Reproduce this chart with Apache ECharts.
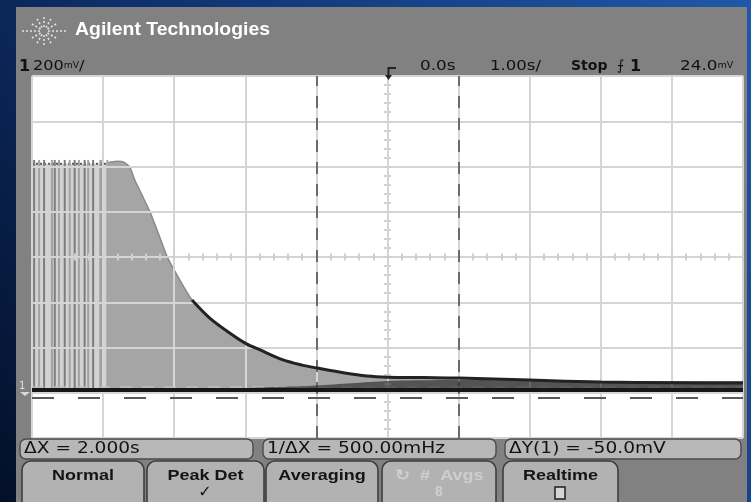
<!DOCTYPE html>
<html>
<head>
<meta charset="utf-8">
<script src="https://cdn.jsdelivr.net/npm/echarts@6/dist/echarts.min.js"></script>
<style>
  html, body { margin: 0; padding: 0; background: #0b2553; }
  #scope { width: 751px; height: 502px; }
</style>
</head>
<body>
<div id="scope"></div>
<script>
// Horizontal: 1.00 s/div, ten divisions centred on the trigger point (0.0 s)
const timeRange = [-5, 5];
// Vertical: 200 mV/div, eight divisions, channel 1 ground 2.94 div below centre
const voltRange = [-212, 1388];

// Pulse train before the discharge (s)
const pulseTimesStrong = [-4.97, -4.83, -4.68, -4.54, -4.40, -4.26, -4.14, -4.01];
const pulseTimesWeak = [-4.90, -4.72, -4.62, -4.47, -4.34, -4.21, -4.04, -3.94];
const pulsePeak = 1017;   // mV
const pulseLevel = 1000;  // mV, held top of the pulse train

// Peak-detect maximum of the decaying trace
const envTime = [-3.93, -3.86, -3.80, -3.70, -3.62, -3.55, -3.45, -3.34, -3.22, -3.09, -2.92, -2.75,
                 -2.50, -2.22, -1.99, -1.79, -1.47, -1.20, -0.99, -0.60, -0.29, 0, 0.5, 1, 2, 3, 4, 5];
const envVolt = [1005, 1009, 1011, 1006, 982, 925, 860, 787, 690, 583, 486, 398,
                 318, 252, 205, 177, 133, 110, 97, 75, 62, 57, 55, 53, 44, 35, 32, 31];

// Densest part of the trace just above ground
const denseTime = [-2.6, -2.0, -1.5, -1.0, -0.5, 0, 0.5, 1, 2, 3, 5];
const denseVolt = [0, 8, 14, 20, 30, 40, 43, 44, 42, 40, 40];

// Ground level trace
const baseTime = [-5, 5];
const baseVolt = [0, 0];

// Cursors: X1/X2 in s, Y1/Y2 in mV
const cursorX = [-1, 1];
const cursorY = [15, -35];

// Readouts derived from the cursors
const dX = cursorX[1] - cursorX[0];
const dY = cursorY[1] - cursorY[0];
const readDX = 'ΔX = ' + dX.toFixed(3) + 's';
const readInv = '1/ΔX = ' + (1000 / dX).toFixed(2) + 'mHz';
const readDY = 'ΔY(1) = ' + dY.toFixed(1) + 'mV';

const pairs = (xs, ys) => xs.map((x, i) => [x, ys[i]]);

// Plot area (graticule)
const G = { left: 32, top: 76, width: 711, height: 362 };
const centreY = G.top + G.height / 2;
const centreX = G.left + G.width / 2;
const markLen = 7;

const chart = echarts.init(document.getElementById('scope'), null, { renderer: 'canvas' });

const pulseData = pulseTimesStrong.map(t => ({ value: [t, pulsePeak], itemStyle: { color: '#7c7c7c' } }))
  .concat(pulseTimesWeak.map(t => ({ value: [t, pulsePeak], itemStyle: { color: '#a2a2a2' } })));

// Soft keys and readout boxes along the bottom
const keyFont = 'bold 15px "Liberation Sans", Arial, sans-serif';
function softKey(x, w, label, sub, dim) {
  const els = [{
    type: 'rect', z: 10,
    shape: { x: x, y: 461, width: w, height: 48, r: [9, 9, 0, 0] },
    style: { fill: '#b2b2b2', stroke: '#3e3e3e', lineWidth: 1.6 }
  }, {
    type: 'text', z: 11, x: x + w / 2, y: 476, scaleX: 1.2,
    style: { text: label, fill: dim ? '#cfcfcf' : '#141414', font: keyFont,
             align: 'center', verticalAlign: 'middle' }
  }];
  if (sub) els.push(sub);
  return els;
}
function readout(x, w, text) {
  return [{
    type: 'rect', z: 10,
    shape: { x: x, y: 439, width: w, height: 20, r: 6 },
    style: { fill: '#b7b7b7', stroke: '#4a4a4a', lineWidth: 1.4 }
  }, {
    type: 'text', z: 11, x: x + 4, y: 449.5, scaleX: 1.24,
    style: { text: text, fill: '#121212', font: '15px "DejaVu Sans", sans-serif', verticalAlign: 'middle' }
  }];
}

// Agilent starburst logo
const logo = [];
for (let i = 0; i < 12; i++) {
  const a = i * Math.PI / 6;
  const rx = (i % 6 === 0) ? 22 : 15, ry = 15;
  logo.push({
    type: 'line', z: 11,
    shape: { x1: 44 + Math.cos(a) * 4, y1: 31 + Math.sin(a) * 4, x2: 44 + Math.cos(a) * rx, y2: 31 + Math.sin(a) * ry },
    style: { stroke: '#e4e4e4', lineWidth: 1.5, lineDash: [2, 2] }
  });
}

const hdrFont = '14px "DejaVu Sans", sans-serif';
const unitRich = {
  n: { fontSize: 14, fontFamily: 'DejaVu Sans', fill: '#111' },
  u: { fontSize: 8, fontFamily: 'DejaVu Sans', fill: '#111' }
};
const graphics = [
  // instrument bezel
  { type: 'rect', z: -2, shape: { x: 16, y: 7, width: 731, height: 500 }, style: { fill: '#818181' } },
  // white screen
  { type: 'rect', z: -1, shape: { x: G.left, y: G.top, width: G.width, height: G.height }, style: { fill: '#ffffff' } },
  { type: 'text', z: 11, x: 75, y: 30, scaleX: 1.08,
    style: { text: 'Agilent Technologies', fill: '#ffffff', font: 'bold 18px "Liberation Sans", Arial, sans-serif', verticalAlign: 'middle' } },
  ...logo,
  // status line
  { type: 'text', z: 11, x: 19, y: 67, style: { text: '1', fill: '#111', font: 'bold 16px "DejaVu Sans", sans-serif', verticalAlign: 'middle' } },
  { type: 'text', z: 11, x: 33, y: 66, scaleX: 1.15,
    style: { text: '{n|200}{u|mV}{n|/}', verticalAlign: 'middle', rich: unitRich } },
  { type: 'polyline', z: 11, shape: { points: [[396, 68], [388.5, 68], [388.5, 78]] }, style: { stroke: '#222', lineWidth: 2, fill: null } },
  { type: 'polygon', z: 11, shape: { points: [[385, 75], [392, 75], [388.5, 80]] }, style: { fill: '#222' } },
  { type: 'text', z: 11, x: 420, y: 66, scaleX: 1.2, style: { text: '0.0s', fill: '#111', font: hdrFont, verticalAlign: 'middle' } },
  { type: 'text', z: 11, x: 490, y: 66, scaleX: 1.18, style: { text: '1.00s/', fill: '#111', font: hdrFont, verticalAlign: 'middle' } },
  { type: 'text', z: 11, x: 571, y: 66, style: { text: 'Stop', fill: '#111', font: 'bold 14px "DejaVu Sans", sans-serif', verticalAlign: 'middle' } },
  { type: 'text', z: 11, x: 617, y: 66, style: { text: '⨍', fill: '#111', font: '14px "DejaVu Sans", sans-serif', verticalAlign: 'middle' } },
  { type: 'text', z: 11, x: 630, y: 67, style: { text: '1', fill: '#111', font: 'bold 16px "DejaVu Sans", sans-serif', verticalAlign: 'middle' } },
  { type: 'text', z: 11, x: 680, y: 66, scaleX: 1.2,
    style: { text: '{n|24.0}{u|mV}', verticalAlign: 'middle', rich: unitRich } },
  // channel 1 ground marker
  { type: 'text', z: 11, x: 19, y: 386, style: { text: '1', fill: '#e2e2e2', font: '10px "DejaVu Sans", sans-serif', verticalAlign: 'middle' } },
  { type: 'polygon', z: 11, shape: { points: [[20, 392], [30, 392], [25, 396]] }, style: { fill: '#d8d8d8' } },
  // readouts
  ...readout(20, 233, readDX),
  ...readout(263, 233, readInv),
  ...readout(505, 236, readDY),
  // soft keys
  ...softKey(22, 122, 'Normal'),
  ...softKey(147, 117, 'Peak Det', { type: 'text', z: 11, x: 205, y: 493,
      style: { text: '✓', fill: '#141414', font: 'bold 16px "DejaVu Sans", sans-serif', align: 'center', verticalAlign: 'middle' } }),
  ...softKey(266, 112, 'Averaging'),
  ...softKey(382, 114, '↻  #  Avgs', { type: 'text', z: 11, x: 439, y: 492,
      style: { text: '8', fill: '#cfcfcf', font: 'bold 14px "Liberation Sans", sans-serif', align: 'center', verticalAlign: 'middle' } }, true),
  ...softKey(503, 115, 'Realtime', { type: 'rect', z: 11, shape: { x: 555, y: 487, width: 10, height: 12 },
      style: { fill: '#d6d6d6', stroke: '#1e1e1e', lineWidth: 1.5 } })
];

const gridLine = { show: true, lineStyle: { color: '#d5d5d5', width: 2 } };
const markLine = { show: true, lineStyle: { color: '#d0d0d0', width: 2 } };
const hidden = { axisLine: { show: false }, axisTick: { show: false }, axisLabel: { show: false } };

chart.setOption({
  animation: false,
  backgroundColor: new echarts.graphic.LinearGradient(1, 0, 0, 1, [
    { offset: 0, color: '#1f58aa' }, { offset: 0.55, color: '#0f3270' }, { offset: 1, color: '#030f28' }
  ]),
  grid: [
    // main graticule
    { left: G.left, top: G.top, width: G.width, height: G.height, containLabel: false },
    // thin strip on the horizontal centre line: its split lines are the 0.2-div marks
    { left: G.left, top: centreY - markLen / 2, width: G.width, height: markLen, containLabel: false },
    // thin strip on the vertical centre line
    { left: centreX - markLen / 2, top: G.top, width: markLen, height: G.height, containLabel: false }
  ],
  xAxis: [
    { gridIndex: 0, type: 'value', min: timeRange[0], max: timeRange[1], interval: 1, z: 3, splitLine: gridLine, ...hidden },
    { gridIndex: 1, type: 'value', min: timeRange[0], max: timeRange[1], interval: 0.2, z: 3, splitLine: markLine, ...hidden },
    { gridIndex: 2, type: 'value', min: 0, max: 1, show: false }
  ],
  yAxis: [
    { gridIndex: 0, type: 'value', min: 0, max: 8, interval: 1, z: 3, splitLine: gridLine, ...hidden },
    { gridIndex: 0, type: 'value', min: voltRange[0], max: voltRange[1], show: false, splitLine: { show: false } },
    { gridIndex: 1, type: 'value', min: 0, max: 1, show: false },
    { gridIndex: 2, type: 'value', min: 0, max: 8, interval: 0.2, z: 3, splitLine: markLine, ...hidden }
  ],
  graphic: { elements: graphics },
  series: [
    { name: 'pulse band', type: 'line', xAxisIndex: 0, yAxisIndex: 1, z: 1, symbol: 'none',
      data: [[timeRange[0], pulseLevel], [pulseTimesWeak[pulseTimesWeak.length - 1], pulseLevel]],
      lineStyle: { color: '#5a5a5a', width: 2, type: [2, 2] },
      areaStyle: { color: '#d2d2d2', opacity: 1 } },
    { name: 'pulses', type: 'bar', xAxisIndex: 0, yAxisIndex: 1, z: 2, barWidth: 2, data: pulseData },
    { name: 'peak max', type: 'line', xAxisIndex: 0, yAxisIndex: 1, z: 1, symbol: 'none', smooth: 0.2,
      data: pairs(envTime, envVolt),
      lineStyle: { color: '#8a8a8a', width: 1.5 },
      areaStyle: { color: '#a5a5a5', opacity: 1 } },
    { name: 'dense band', type: 'line', xAxisIndex: 0, yAxisIndex: 1, z: 5, symbol: 'none', smooth: 0.3,
      data: pairs(denseTime, denseVolt),
      lineStyle: { width: 0 },
      areaStyle: { color: 'rgba(22,22,22,0.82)' } },
    { name: 'trace edge', type: 'line', xAxisIndex: 0, yAxisIndex: 1, z: 5, symbol: 'none', smooth: 0.3,
      data: pairs(envTime, envVolt).filter(p => p[0] >= -2.8),
      lineStyle: { color: '#222222', width: 3 } },
    { name: 'ground', type: 'line', xAxisIndex: 0, yAxisIndex: 1, z: 5, symbol: 'none',
      data: pairs(baseTime, baseVolt),
      lineStyle: { color: '#161616', width: 4 } },
    { name: 'cursors', type: 'line', xAxisIndex: 0, yAxisIndex: 1, z: 6, data: [],
      markLine: {
        silent: true, symbol: ['none', 'none'], label: { show: false }, animation: false,
        data: [
          { xAxis: cursorX[0], lineStyle: { color: '#4a4a4a', width: 1.5, type: [12, 10] } },
          { xAxis: cursorX[1], lineStyle: { color: '#4a4a4a', width: 1.5, type: [12, 10] } },
          { yAxis: cursorY[0], lineStyle: { color: '#bdbdbd', width: 1.5, type: [12, 10] } },
          { yAxis: cursorY[1], lineStyle: { color: '#5a5a5a', width: 2, type: [22, 24] } }
        ]
      } }
  ]
});
</script>
</body>
</html>
